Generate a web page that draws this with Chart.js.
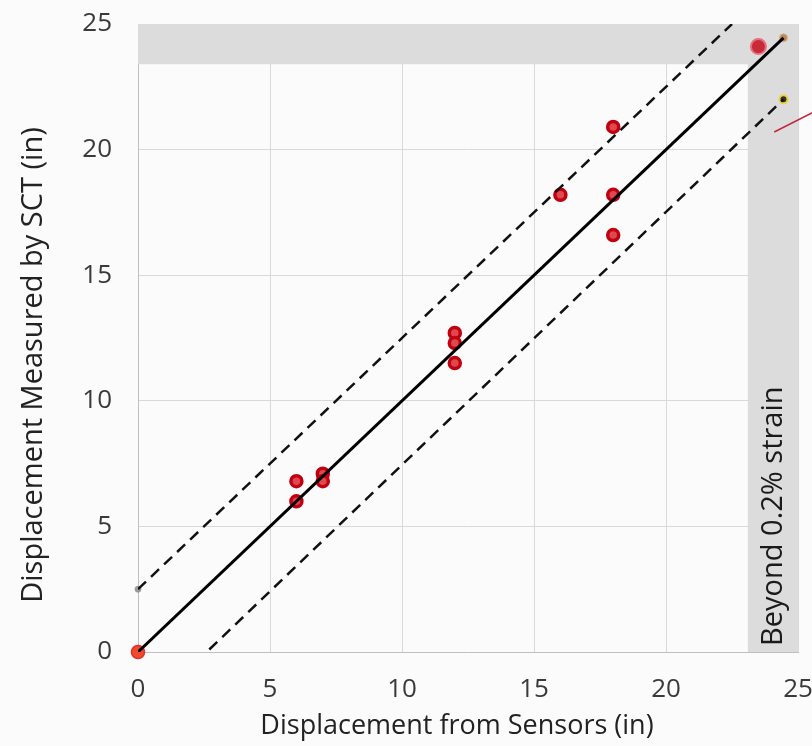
<!DOCTYPE html>
<html lang="en">
<head>
  <meta charset="UTF-8"/>
  <title>SCT vs Sensors</title>
  <script src="https://cdn.jsdelivr.net/npm/chart.js"></script>
  <style>
    body { margin: 0; background: #fbfbfb; }
    canvas { display: block; }
  </style>
</head>
<body>
<canvas id="sctChart" width="812" height="746"></canvas>
<script>
  // measured points (sensor displacement, SCT displacement)
  const sensorX = [6, 6, 7, 7, 12, 12, 12, 16, 18, 18, 18];
  const sctY    = [6.8, 6.0, 7.1, 6.8, 12.7, 12.3, 11.5, 18.2, 20.9, 18.2, 16.6];
  const originPt = [{ x: 0, y: 0 }];
  const lastPt   = [{ x: 23.5, y: 24.1 }];

  // reference lines
  const equalLine = [{ x: 0, y: 0 }, { x: 24.45, y: 24.45 }];
  const upperBand = [{ x: 0, y: 2.5 }, { x: 22.5, y: 25 }];
  const lowerBand = [{ x: 2.7, y: 0.1 }, { x: 24.45, y: 22 }];
  const pointerLine = [{ x: 24.1, y: 20.7 }, { x: 25.6, y: 21.5 }];

  const axisTicks = [0, 5, 10, 15, 20, 25];
  // shaded zones
  const strainX = 23.1;
  const strainY = 23.4;

  const FONT = "'Open Sans', 'Noto Sans', sans-serif";

  const shadePlugin = {
    id: 'shade',
    beforeDatasetsDraw(chart) {
      const { ctx, chartArea, scales: { x, y } } = chart;
      ctx.save();
      ctx.fillStyle = '#dcdcdc';
      const yTop = y.getPixelForValue(25);
      const yBand = y.getPixelForValue(strainY);
      ctx.fillRect(chartArea.left, yTop, chartArea.right - chartArea.left, yBand - yTop);
      const xBand = x.getPixelForValue(strainX);
      ctx.fillRect(xBand, yTop, chartArea.right - xBand, chartArea.bottom - yTop);
      ctx.translate((xBand + chartArea.right) / 2 + 1, chartArea.bottom - 6);
      ctx.rotate(-Math.PI / 2);
      ctx.fillStyle = '#1a1a1a';
      ctx.font = '29px ' + FONT;
      ctx.textAlign = 'left';
      ctx.textBaseline = 'middle';
      ctx.fillText('Beyond 0.2% strain', 0, 0);
      ctx.restore();
    }
  };

  // axis titles, placed where the original sits (a bit off the axis centres)
  const titlePlugin = {
    id: 'titles',
    afterDraw(chart) {
      const { ctx } = chart;
      ctx.save();
      ctx.fillStyle = '#222';
      ctx.textAlign = 'center';
      ctx.textBaseline = 'middle';
      ctx.font = '27px ' + FONT;
      ctx.fillText('Displacement from Sensors (in)', 457, 726);
      ctx.translate(34, 365);
      ctx.rotate(-Math.PI / 2);
      ctx.font = '29px ' + FONT;
      ctx.fillText('Displacement Measured by SCT (in)', 0, 0);
      ctx.restore();
    }
  };

  const pts = sensorX.map((v, i) => ({ x: v, y: sctY[i] }));

  new Chart(document.getElementById('sctChart'), {
    type: 'scatter',
    data: {
      datasets: [
        { data: equalLine, showLine: true, borderColor: '#000', borderWidth: 3, pointRadius: 0 },
        { data: upperBand, showLine: true, borderColor: '#111', borderWidth: 2.5, borderDash: [11, 7], pointRadius: 0 },
        { data: lowerBand, showLine: true, borderColor: '#111', borderWidth: 2.5, borderDash: [11, 7], pointRadius: 0 },
        { data: pointerLine, showLine: true, borderColor: '#c0283a', borderWidth: 1.5, pointRadius: 0, clip: false },
        { data: [upperBand[0]], pointRadius: 3, backgroundColor: '#9a9a9a', borderColor: '#9a9a9a', clip: false },
        { data: [equalLine[1]], pointRadius: 4, backgroundColor: '#b8895a', borderColor: '#d9b48a', borderWidth: 1 },
        { data: [lowerBand[1]], pointRadius: 4, backgroundColor: '#333', borderColor: '#f0d040', borderWidth: 2 },
        { data: pts, pointRadius: 5.5, backgroundColor: '#e04850', borderColor: '#c00010', borderWidth: 3.5 },
        { data: originPt, pointRadius: 6.5, backgroundColor: '#f04a2a', borderColor: '#e0302a', borderWidth: 1.5, clip: false },
        { data: lastPt, pointRadius: 7.5, backgroundColor: '#c82a3a', borderColor: '#e4707a', borderWidth: 2 }
      ]
    },
    options: {
      responsive: false,
      animation: false,
      layout: { padding: { top: 24, right: 14, left: 0, bottom: 0 } },
      plugins: {
        legend: { display: false },
        tooltip: { enabled: false }
      },
      scales: {
        x: {
          type: 'linear', min: 0, max: 25,
          afterFit(scale) { scale.height = 94; scale.paddingLeft = 0; scale.paddingRight = 0; },
          afterBuildTicks(scale) { scale.ticks = axisTicks.map(v => ({ value: v })); },
          grid: { color: '#d9d9d9', drawTicks: false },
          border: { color: '#bfbfbf' },
          ticks: { padding: 22, color: '#3a3a3a', font: { family: FONT, size: 26 } }
        },
        y: {
          type: 'linear', min: 0, max: 25,
          afterFit(scale) { scale.width = 138; scale.paddingTop = 0; scale.paddingBottom = 0; },
          afterBuildTicks(scale) { scale.ticks = axisTicks.map(v => ({ value: v })); },
          grid: { color: '#d9d9d9', drawTicks: false },
          border: { color: '#bfbfbf' },
          ticks: { padding: 26, color: '#3a3a3a', font: { family: FONT, size: 26 } }
        }
      }
    },
    plugins: [shadePlugin, titlePlugin]
  });
</script>
</body>
</html>
